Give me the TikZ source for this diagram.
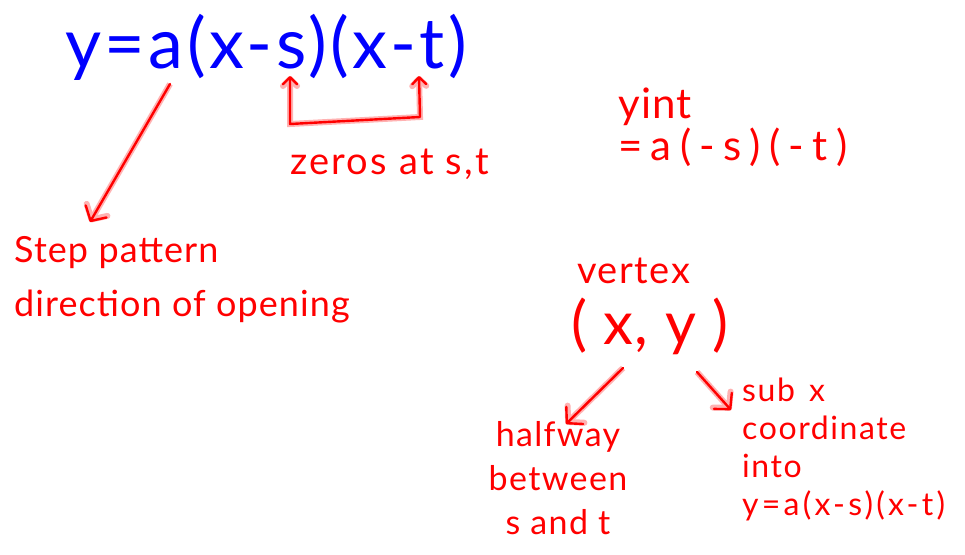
\documentclass[tikz,border=0pt]{standalone}
\usepackage{fontspec}
\setmainfont{Lato}
\usetikzlibrary{arrows.meta}

\newcommand{\spaced}[2]{{\addfontfeature{LetterSpace=#1}#2}}

\begin{document}
\begin{tikzpicture}[
  x=1pt, y=-1pt,
  note/.style={text=red, font=\fontsize{35}{50}\selectfont, align=left, inner sep=0pt},
  arr/.style={red, line width=2.4pt, line cap=round, line join=round,
    -{Straight Barb[length=11pt,width=24pt,round]},
    preaction={draw=red!30, line width=6pt}},
  hook/.style={arr, {Straight Barb[length=7pt,width=14pt,round]}-{Straight Barb[length=7pt,width=14pt,round]}}
]
\path[use as bounding box, fill=white] (0,0) rectangle (965,554);

% equation and its zeros
\node[inner sep=0pt, text=blue, font=\fontsize{70}{70}\selectfont, anchor=base west] (eqn) at (65,68) {\spaced{5}{y=a(x-s)(x-t)}};
\node[note, font=\fontsize{38}{40}\selectfont, anchor=base west] (zeros) at (290,174) {\spaced{6}{zeros at s,t}};
\node[note, font=\fontsize{42}{42}\selectfont, anchor=north west] (yint) at (618,88) {\spaced{3}{yint}\\\spaced{20}{=a(-s)(-t)}};
\node[note, font=\fontsize{36}{54}\selectfont, anchor=north west] (steppat) at (14,236) {\spaced{3}{Step pattern}\\\spaced{3}{direction of opening}};

% vertex
\node[note, font=\fontsize{38}{40}\selectfont, anchor=base west] (vertex) at (577,283) {\spaced{4}{vertex}};
\node[note, font=\fontsize{60}{60}\selectfont] (xy) at (650,326) {\spaced{2}{( x, y )}};
\node[note, font=\fontsize{34}{44}\selectfont, align=center, anchor=north] (halfway) at (558,421) {\spaced{4}{halfway}\\\spaced{4}{between}\\\spaced{4}{s and t}};
\node[note, font=\fontsize{32}{38}\selectfont, anchor=north west] (subx) at (742,378) {\spaced{5}{sub\hspace{14pt}x}\\\spaced{5}{coordinate}\\\spaced{5}{into}\\\spaced{10}{y=a(x-s)(x-t)}};

\coordinate (afoot) at (170,84);
\coordinate (steptop) at (90,222);
\coordinate (sfoot) at (290,76);
\coordinate (tfoot) at (419,76);
\coordinate (xyleft) at (623,368);
\coordinate (halftop) at (566,424);
\coordinate (xyright) at (697,372);
\coordinate (subleft) at (731,410);

\draw[arr] (afoot) -- (steptop);
\draw[hook] (sfoot) -- (290,124) -- (420,117) -- (tfoot);
\draw[arr] (xyleft) -- (halftop);
\draw[arr] (xyright) -- (subleft);
\end{tikzpicture}
\end{document}
